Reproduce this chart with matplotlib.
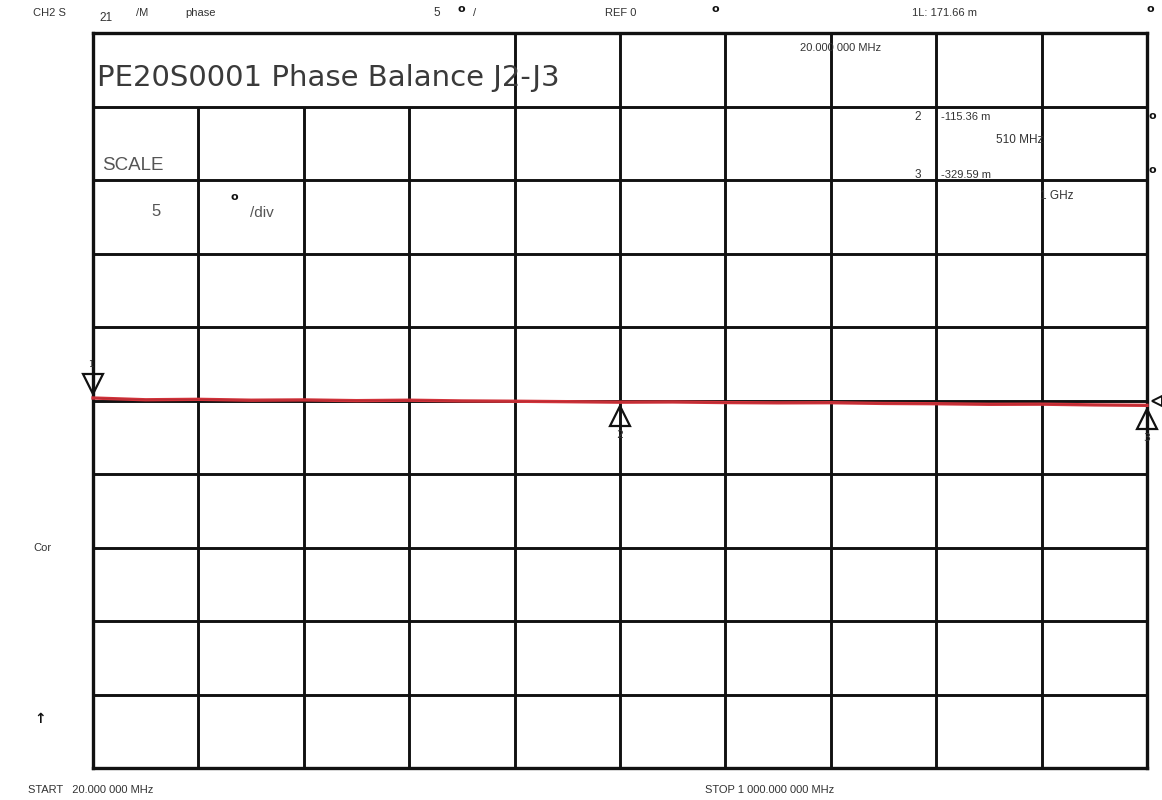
import matplotlib
matplotlib.use("Agg")
import matplotlib.pyplot as plt
from matplotlib.transforms import offset_copy

# ---- data ----
freq_mhz = [20, 69, 118, 167, 216, 265, 314, 363, 412, 461, 510,
            559, 608, 657, 706, 755, 804, 853, 902, 951, 1000]
phase_deg = [0.17, 0.05, 0.08, 0.02, 0.04, -0.01, 0.02, -0.03, -0.05, -0.08, -0.115,
             -0.10, -0.14, -0.16, -0.15, -0.20, -0.22, -0.26, -0.25, -0.30, -0.33]
marker_freqs = [20, 510, 1000]
marker_vals = [0.17166, -0.11536, -0.32959]
marker_names = ["1", "2", "3"]
start_mhz, stop_mhz = 20, 1000
ref_val, scale_per_div, n_div = 0, 5, 10
title = "PE20S0001 Phase Balance J2-J3"

# ---- figure ----
W, H = 1162, 800
fig = plt.figure(figsize=(W / 100, H / 100), dpi=100)
fig.patch.set_facecolor("white")

def fx(px):
    return px / W

def fy(py):
    return 1 - py / H

L, R, T, B = 93, 1147, 33, 768
ax = fig.add_axes([fx(L), fy(B), fx(R) - fx(L), fy(T) - fy(B)])
ymin = ref_val - scale_per_div * n_div / 2
ymax = ref_val + scale_per_div * n_div / 2
ax.set_xlim(start_mhz, stop_mhz)
ax.set_ylim(ymin, ymax)
ax.set_xticks([])
ax.set_yticks([])
for s in ax.spines.values():
    s.set_linewidth(2.4)
    s.set_color("#111111")

step_x = (stop_mhz - start_mhz) / n_div
gc = "#111111"
glw = 2.1
for i in range(1, n_div):
    x = start_mhz + i * step_x
    top = ymax - scale_per_div if i in (1, 2, 3) else ymax
    ax.vlines(x, ymin, top, color=gc, lw=glw, zorder=1)
for j in range(1, n_div):
    y = ymin + j * scale_per_div
    ax.hlines(y, start_mhz, stop_mhz, color=gc, lw=glw, zorder=1)

# trace
ax.plot(freq_mhz, phase_deg, color="#d2323a", lw=2.4, zorder=3, clip_on=False)
ax.plot(freq_mhz, phase_deg, color="#5a1a1a", lw=0.6, alpha=0.25, zorder=4, clip_on=False)

# markers
for f, v, name in zip(marker_freqs, marker_vals, marker_names):
    if name == "1":
        tr = offset_copy(ax.transData, fig=fig, y=10, units="points")
        ax.plot([f], [v], marker="v", ms=14, mfc="none", mec="#111111", mew=1.6,
                transform=tr, clip_on=False, zorder=5)
        ax.text(f, v, name, transform=offset_copy(ax.transData, fig=fig, x=-2, y=21, units="points"),
                fontsize=6, ha="center", va="bottom", color="#333333")
    else:
        tr = offset_copy(ax.transData, fig=fig, y=-10, units="points")
        ax.plot([f], [v], marker="^", ms=14, mfc="none", mec="#111111", mew=1.6,
                transform=tr, clip_on=False, zorder=5)
        ax.text(f, v, name, transform=offset_copy(ax.transData, fig=fig, y=-20, units="points"),
                fontsize=8, ha="center", va="top", color="#333333")

# reference level pointer at right edge
ax.plot([stop_mhz], [ref_val], marker="<", ms=7, mfc="white", mec="#111111", mew=1.4,
        transform=offset_copy(ax.transData, fig=fig, x=7, units="points"), clip_on=False, zorder=6)

# ---- annotations ----
tc = "#333333"
sf = dict(family="Liberation Sans", color=tc)

def t(px, py, s, size=8, ha="left", va="center", **kw):
    d = dict(sf)
    d.update(kw)
    fig.text(fx(px), fy(py), s, fontsize=size, ha=ha, va=va, **d)

def deg(px, py):
    fig.text(fx(px), fy(py), "o", fontsize=8, fontweight="bold", ha="center", va="center",
             family="DejaVu Sans", color="#111111")

t(33, 13, "CH2 S", 8)
t(99, 18, "21", 8.5)
t(136, 13, "/M", 8)
t(185, 13, "phase", 8)
t(433, 13, "5", 8.5)
deg(461, 9)
t(473, 13, "/", 8)
t(605, 13, "REF 0", 8)
deg(715, 9)
t(912, 13, "1L: 171.66 m", 8)
deg(1150, 9)
t(800, 48, "20.000 000 MHz", 8)

fig.text(fx(97), fy(78), title, fontsize=21, family="DejaVu Sans", color="#3a3a3a",
         ha="left", va="center")

t(102, 165, "SCALE", 13.5, color="#555555")
t(151, 211, "5", 12, color="#555555")
deg(234, 197)
t(250, 213, "/div", 11, color="#555555")

t(918, 117, "2", 8.5, ha="center")
t(941, 117, "-115.36 m", 8)
t(996, 140, "510 MHz", 8.5)
t(918, 175, "3", 8.5, ha="center")
t(941, 175, "-329.59 m", 8)
t(1040, 196, "1 GHz", 8.5)
deg(1152, 116)
deg(1152, 170)

t(33, 548, "Cor", 8)
t(34, 719, "↑", 10, family="DejaVu Sans", fontweight="bold", color="#111111")
t(28, 790, "START   20.000 000 MHz", 8)
t(705, 790, "STOP 1 000.000 000 MHz", 8)

fig.savefig("out.png", dpi=100, facecolor="white")
